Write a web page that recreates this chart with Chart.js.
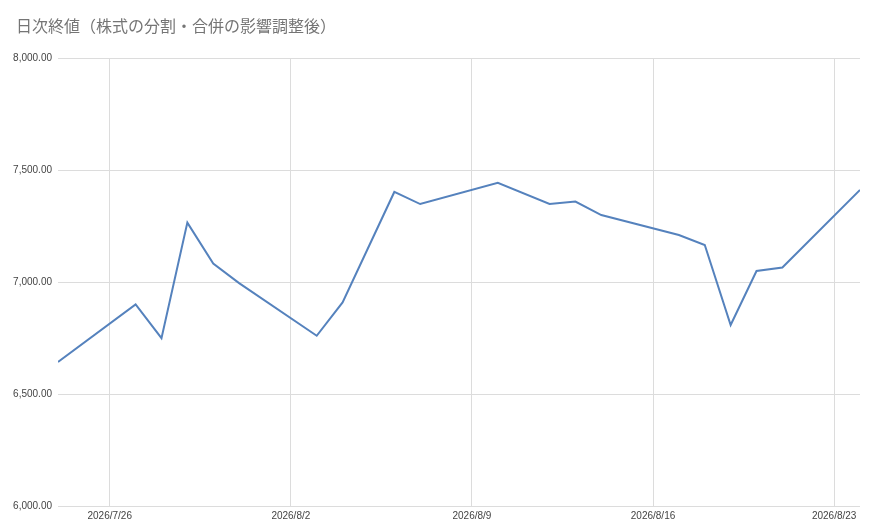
<!DOCTYPE html>
<html>
<head>
<meta charset="utf-8">
<script src="https://cdn.jsdelivr.net/npm/chart.js@4.4.1/dist/chart.umd.min.js"></script>
<style>
html,body{margin:0;padding:0;background:#fff;}
#wrap{width:870px;height:532px;position:relative;}
</style>
</head>
<body>
<div id="wrap"><canvas id="c"></canvas></div>
<script>
const titleText = "日次終値（株式の分割・合併の影響調整後）";
const dates = ["2026/7/24","2026/7/27","2026/7/28","2026/7/29","2026/7/30","2026/7/31",
  "2026/8/3","2026/8/4","2026/8/6","2026/8/7","2026/8/10","2026/8/12","2026/8/13","2026/8/14",
  "2026/8/17","2026/8/18","2026/8/19","2026/8/20","2026/8/21","2026/8/24"];
const closes = [6643,6900,6749,7265,7082,6995,
  6760,6909,7402,7348,7443,7348,7359,7299,
  7210,7165,6808,7049,7065,7411];
const xTickLabels = ["2026/7/26","2026/8/2","2026/8/9","2026/8/16","2026/8/23"];
const startDate = "2026/7/24";
const endDate = "2026/8/24";

function dayNum(s){const p=s.split("/").map(Number);return Date.UTC(p[0],p[1]-1,p[2])/86400000;}
const d0 = dayNum(startDate);
const points = dates.map((d,i)=>({x: dayNum(d)-d0, y: closes[i]}));
const tickVals = xTickLabels.map(d=>dayNum(d)-d0);
const tickLabelMap = {};
xTickLabels.forEach((d,i)=>{tickLabelMap[tickVals[i]]=d;});

const titlePlugin = {
  id:'leftTitle',
  afterDraw(chart){
    const ctx = chart.ctx;
    ctx.save();
    ctx.font = "16px 'Noto Sans CJK JP', sans-serif";
    ctx.fillStyle = '#757575';
    ctx.textBaseline = 'middle';
    ctx.textAlign = 'left';
    ctx.fillText(titleText, 16, 26);
    ctx.restore();
  }
};

const tickFont = {family:"'Liberation Sans', Arial, sans-serif", size:10};
new Chart(document.getElementById('c'),{
  type:'line',
  data:{datasets:[{data:points,borderColor:'#5582bd',borderWidth:2,pointRadius:0,tension:0,fill:false}]},
  plugins:[titlePlugin],
  options:{
    responsive:true,maintainAspectRatio:false,animation:false,
    layout:{padding:{left:0,right:10,top:58,bottom:0}},
    plugins:{legend:{display:false},tooltip:{enabled:false},title:{display:false}},
    scales:{
      x:{type:'linear',min:0,max:dayNum(endDate)-d0,
        afterBuildTicks:(s)=>{s.ticks=tickVals.map(v=>({value:v}));},
        afterFit:(s)=>{s.height=26;},
        grid:{color:'#dcdcdc',drawTicks:false,lineWidth:1},
        border:{display:false},
        ticks:{color:'#444',font:tickFont,padding:4,maxRotation:0,autoSkip:false,
          callback:(v)=>tickLabelMap[v]||''}
      },
      y:{min:6000,max:8000,
        afterFit:(s)=>{s.width=58;},
        grid:{color:'#dcdcdc',drawTicks:false,lineWidth:1},
        border:{display:false},
        ticks:{stepSize:500,color:'#444',font:tickFont,padding:6,
          callback:(v)=>v.toLocaleString('en-US',{minimumFractionDigits:2,maximumFractionDigits:2})}
      }
    }
  }
});
</script>
</body>
</html>
